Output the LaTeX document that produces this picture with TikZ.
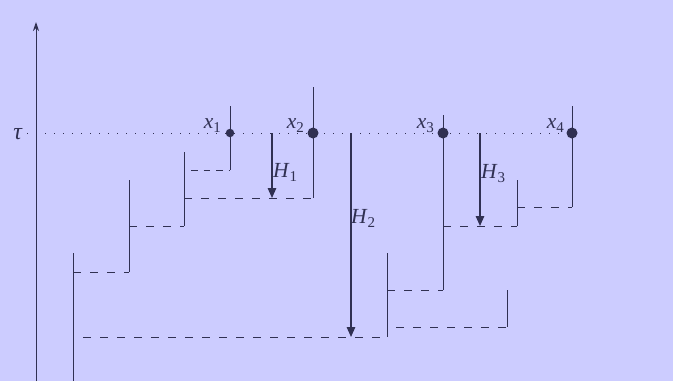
\documentclass[tikz,border=0pt]{standalone}
\usepackage{fontspec}
\setmainfont{Liberation Serif}
\usetikzlibrary{arrows.meta}
\definecolor{bgc}{HTML}{CCCCFF}
\definecolor{ink}{HTML}{303052}
\newcommand{\lbl}[2]{\textit{#1}\raisebox{-0.22em}{\fontsize{15}{15}\selectfont #2}}
\tikzset{
  solidln/.style={draw=ink, line width=0.9pt},
  dashln/.style={draw=ink, line width=0.9pt, dash pattern=on 7.5pt off 9.5pt},
  shortdash/.style={draw=ink, line width=0.9pt, dash pattern=on 6.5pt off 6pt},
  harrow/.style={draw=ink, line width=1.5pt, -{Triangle[length=10pt,width=8.5pt]}},
  dotln/.style={draw=ink, line width=1pt, dash pattern=on 0.8pt off 8.2pt},
  bigdot/.style={circle, fill=ink, inner sep=0pt, minimum size=11pt},
  smalldot/.style={circle, fill=ink, inner sep=0pt, minimum size=8.5pt},
  lab/.style={text=ink, font=\fontsize{21.5}{23}\selectfont, inner sep=0pt}
}
\begin{document}
\begin{tikzpicture}[x=1pt,y=-1pt]
\fill[bgc] (0,0) rectangle (673,381);
\useasboundingbox (0,0) rectangle (673,381);
% axis
\coordinate (ax0) at (36,381);
\coordinate (ax1) at (36,22);
\draw[draw=ink, line width=0.9pt, -{Stealth[length=9pt,width=6pt]}] (ax0) -- (ax1);
\node[lab, anchor=base, font=\fontsize{24}{26}\selectfont] (tau) at (18,139) {\textit{τ}};
% dotted level line
\coordinate (d0) at (27,133);
\coordinate (d1) at (576,133);
\draw[dotln] (d0) -- (d1);
% points
\node[smalldot] (p1) at (230,133) {};
\node[bigdot] (p2) at (313,133) {};
\node[bigdot] (p3) at (443,133) {};
\node[bigdot] (p4) at (572,133) {};
\node[lab, anchor=base east] (l1) at (221,128) {\lbl{x}{1}};
\node[lab, anchor=base east] (l2) at (304,128) {\lbl{x}{2}};
\node[lab, anchor=base east] (l3) at (434,128) {\lbl{x}{3}};
\node[lab, anchor=base east] (l4) at (564,128) {\lbl{x}{4}};
% vertical segments
\coordinate (a1) at (230,106); \coordinate (a2) at (230,170);
\coordinate (b1) at (184,152); \coordinate (b2) at (184,226);
\coordinate (c1) at (313,87);  \coordinate (c2) at (313,198);
\coordinate (e1) at (129,180); \coordinate (e2) at (129,272);
\coordinate (f1) at (73,253);  \coordinate (f2) at (73,381);
\coordinate (g1) at (387,253); \coordinate (g2) at (387,337);
\coordinate (h1) at (443,115); \coordinate (h2) at (443,290);
\coordinate (i1) at (507,290); \coordinate (i2) at (507,327);
\coordinate (j1) at (517,180); \coordinate (j2) at (517,226);
\coordinate (k1) at (572,106); \coordinate (k2) at (572,207);
\foreach \s in {a,b,c,e,f,g,h,i,j,k} \draw[solidln] (\s1) -- (\s2);
% dashed horizontals
\coordinate (m1) at (191,170);
\draw[shortdash] (m1) -- (a2);
\coordinate (n1) at (184,198);
\draw[dashln] (n1) -- (c2);
\coordinate (o1) at (184,226);
\coordinate (o0) at (129,226);
\draw[dashln] (o0) -- (o1);
\coordinate (q1) at (129,272);
\coordinate (q0) at (73,272);
\draw[dashln] (q0) -- (q1);
\coordinate (r0) at (83,337);
\draw[dashln] (r0) -- (g2);
\coordinate (s0) at (387,290);
\draw[dashln] (s0) -- (h2);
\coordinate (t0) at (396,327);
\draw[dashln] (t0) -- (i2);
\coordinate (u0) at (443,226);
\draw[dashln] (u0) -- (j2);
\coordinate (v0) at (517,207);
\draw[dashln] (v0) -- (k2);
% H arrows
\coordinate (H1a) at (272,133); \coordinate (H1b) at (272,198);
\coordinate (H2a) at (351,133); \coordinate (H2b) at (351,337);
\coordinate (H3a) at (480,133); \coordinate (H3b) at (480,226);
\draw[harrow] (H1a) -- (H1b);
\draw[harrow] (H2a) -- (H2b);
\draw[harrow] (H3a) -- (H3b);
\node[lab, anchor=base west] (lh1) at (273,177) {\lbl{H}{1}};
\node[lab, anchor=base west] (lh2) at (351,223) {\lbl{H}{2}};
\node[lab, anchor=base west] (lh3) at (481,178) {\lbl{H}{3}};
\end{tikzpicture}
\end{document}
